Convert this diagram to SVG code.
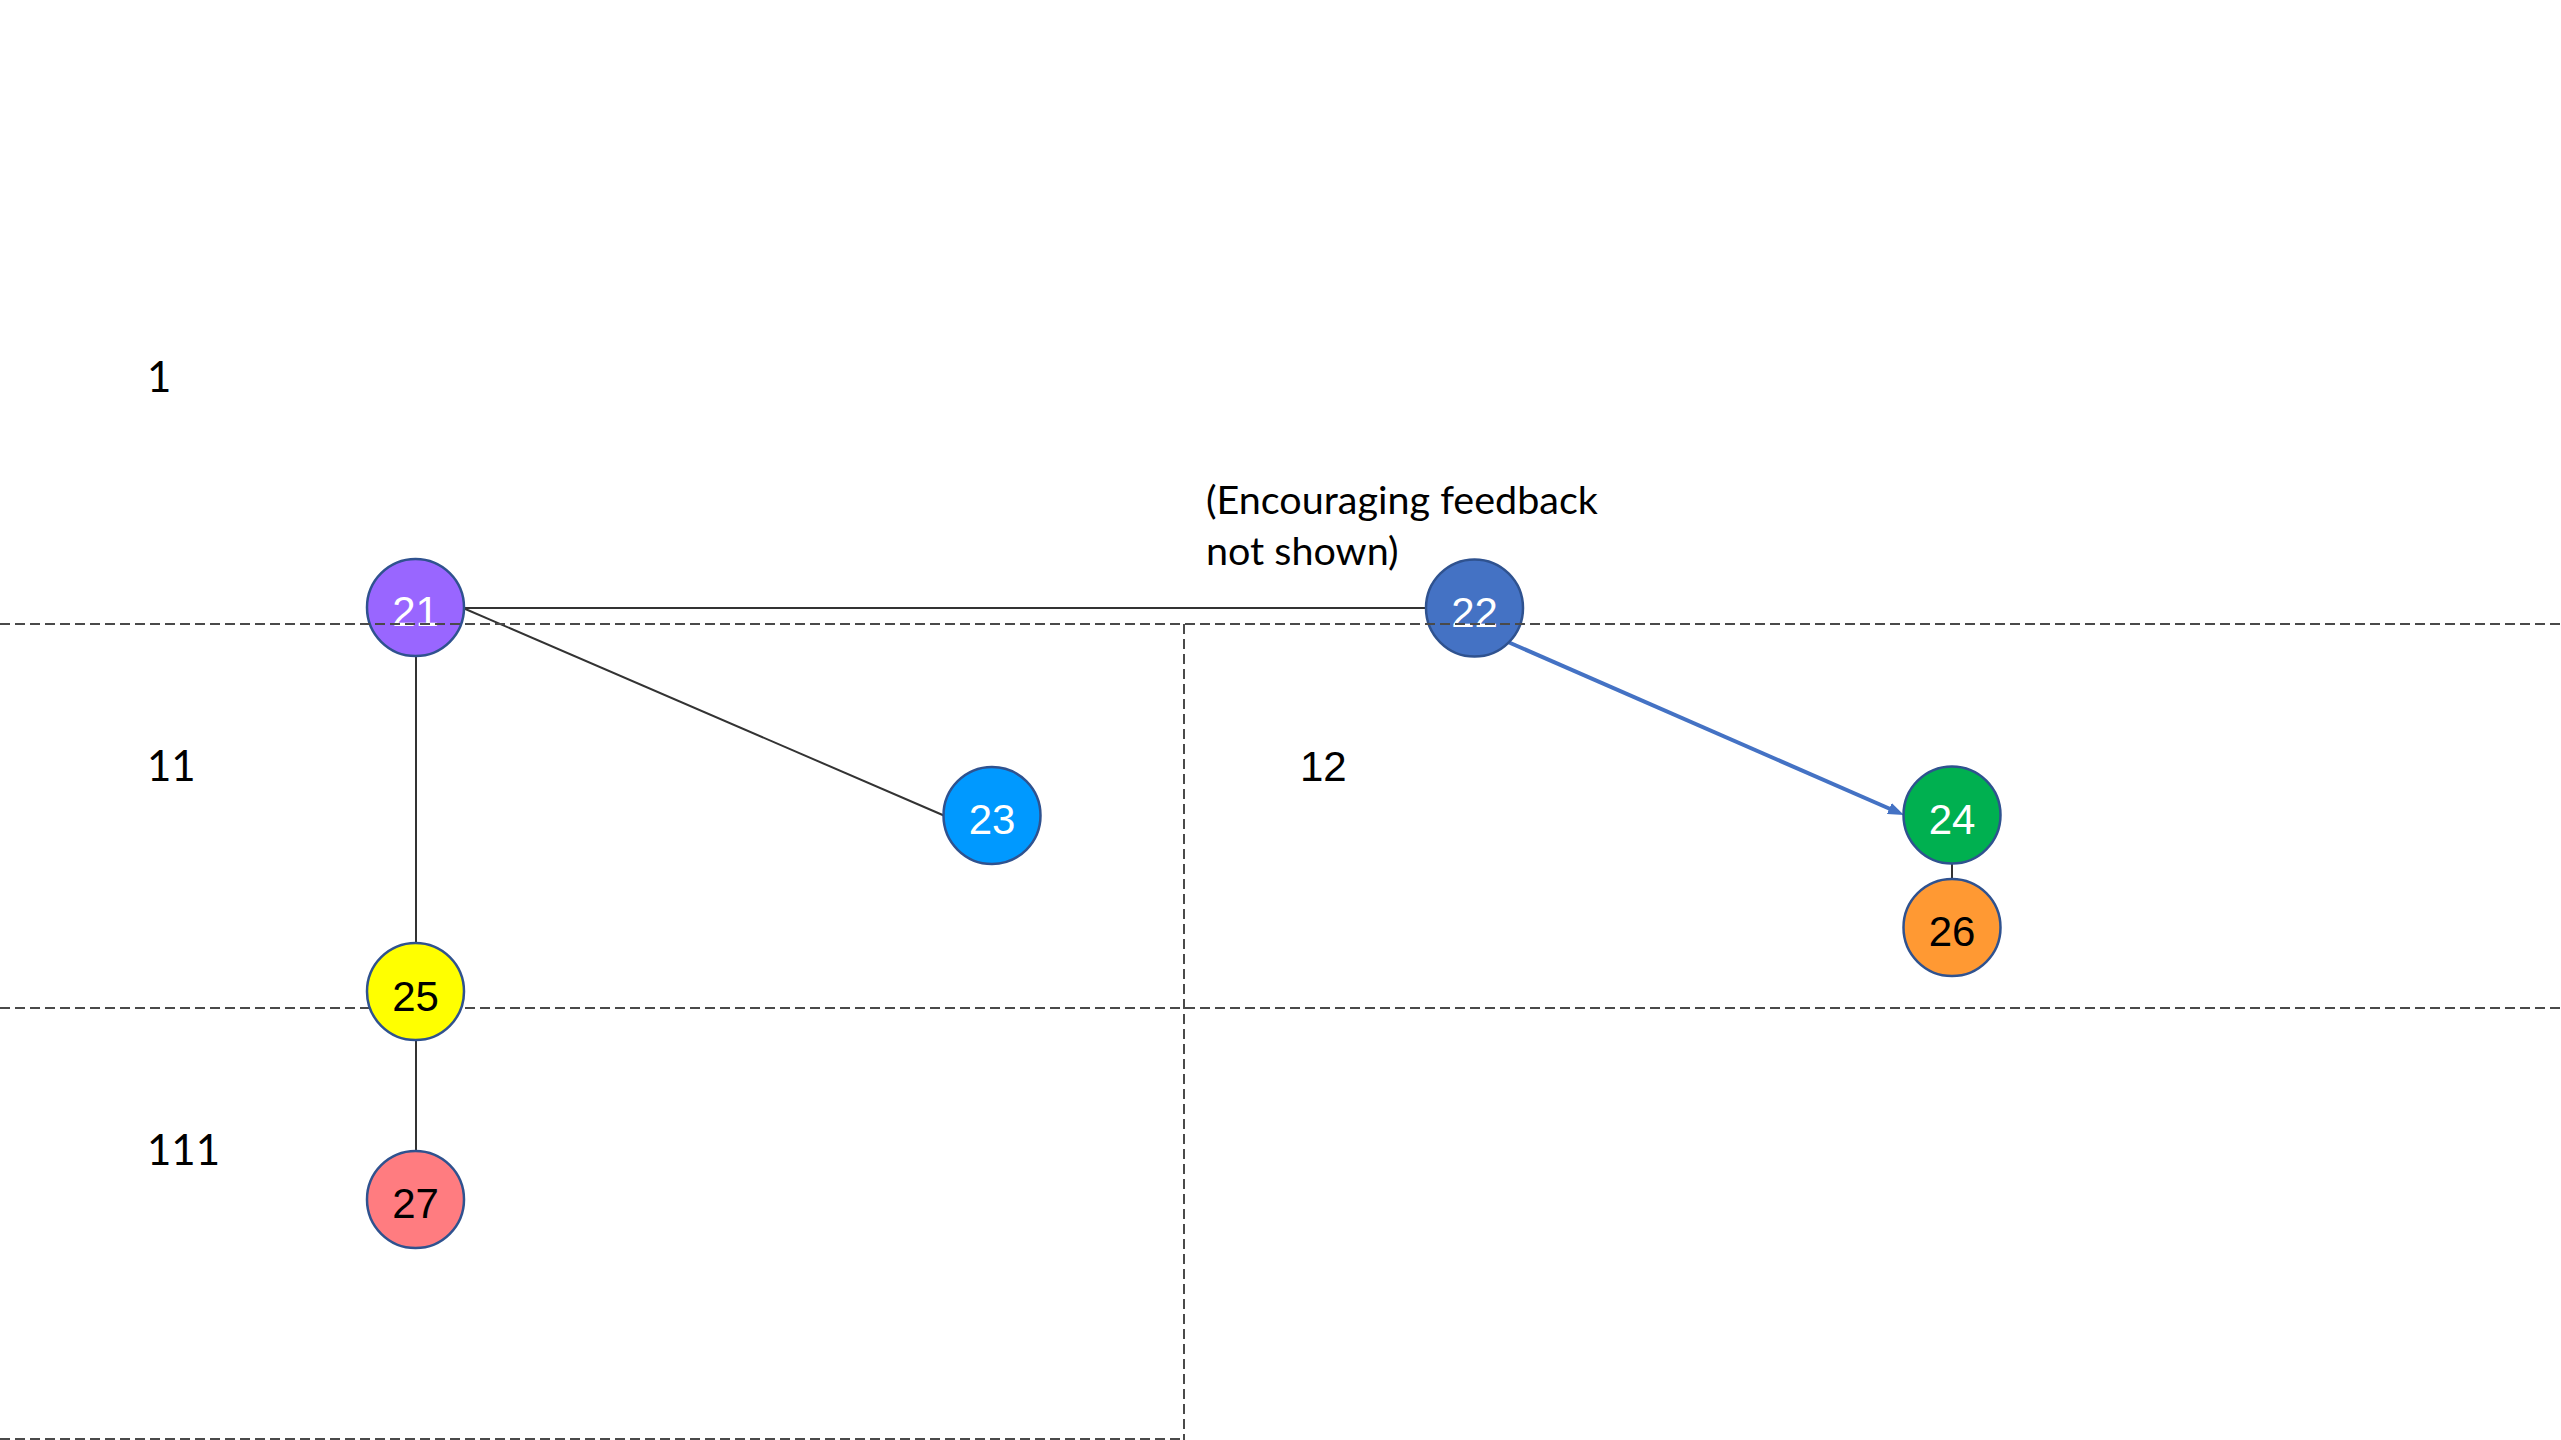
<svg xmlns="http://www.w3.org/2000/svg" width="2561" height="1440" viewBox="0 0 2561 1440">
<style>
  .node circle { stroke: #2F528F; stroke-width: 2.5; }
  .num { font-family: "Liberation Sans", Arial, sans-serif; font-size: 42px; text-anchor: middle; }
  .w { fill: #FFFFFF; }
  .b { fill: #000000; }
  .lbl { font-family: Lato, "Liberation Sans", sans-serif; font-size: 42px; fill: #000; }
  .guide { stroke: #4A4A4A; stroke-width: 2; stroke-dasharray: 10 5; fill: none; }
  .edge { stroke: #333333; stroke-width: 2; fill: none; }
</style>
<defs>
  <marker id="arrow" markerUnits="userSpaceOnUse" viewBox="0 0 16 12" refX="6" refY="6" markerWidth="16" markerHeight="12" orient="auto">
    <path d="M0,0 L16,6 L0,12 z" fill="#4472C4"/>
  </marker>
</defs>
<rect width="2561" height="1440" fill="#FFFFFF"/>

<g id="guides-lower">
  <line class="guide" x1="0" y1="1008" x2="2561" y2="1008"/>
  <line class="guide" x1="1184" y1="624" x2="1184" y2="1440"/>
  <line class="guide" x1="0" y1="1439" x2="1184" y2="1439"/>
</g>

<g id="labels">
  <text class="lbl" x="147" y="392">1</text>
  <text class="lbl" x="147" y="781">11</text>
  <text class="lbl" x="147" y="1165">111</text>
  <text x="1300" y="781" font-family="Liberation Sans, Arial, sans-serif" font-size="42" fill="#000">12</text>
  <text font-family="Lato, 'Liberation Sans', sans-serif" font-size="39.5" fill="#000">
    <tspan x="1206" y="514">(Encouraging feedback</tspan>
    <tspan x="1206" y="565">not shown)</tspan>
  </text>
</g>

<g id="connectors">
  <line class="edge" x1="464" y1="608" x2="1427" y2="608"/>
  <line class="edge" x1="463" y1="608" x2="945" y2="816"/>
  <line class="edge" x1="416" y1="655" x2="416" y2="944"/>
  <line class="edge" x1="416" y1="1039" x2="416" y2="1152"/>
  <line class="edge" x1="1952" y1="862" x2="1952" y2="880" stroke-width="1.5"/>
  <line x1="1508" y1="642" x2="1894.8" y2="811" stroke="#4472C4" stroke-width="4" marker-end="url(#arrow)"/>
</g>

<g id="node-21" class="node">
  <circle cx="415.5" cy="607.5" r="48.5" fill="#9966FF"/>
  <text class="num w" x="415.5" y="626">21</text>
</g>
<g id="node-22" class="node">
  <circle cx="1474.5" cy="608" r="48.5" fill="#4472C4"/>
  <text class="num w" x="1474.5" y="627">22</text>
</g>
<g id="node-23" class="node">
  <circle cx="992" cy="815.5" r="48.5" fill="#0099FF"/>
  <text class="num w" x="992" y="834">23</text>
</g>
<g id="node-24" class="node">
  <circle cx="1952" cy="815" r="48.5" fill="#00B050"/>
  <text class="num w" x="1952" y="834">24</text>
</g>
<g id="node-25" class="node">
  <circle cx="415.5" cy="991.5" r="48.5" fill="#FFFF00"/>
  <text class="num b" x="415.5" y="1011">25</text>
</g>
<g id="node-26" class="node">
  <circle cx="1952" cy="927.5" r="48.5" fill="#FF9933"/>
  <text class="num b" x="1952" y="946">26</text>
</g>
<g id="node-27" class="node">
  <circle cx="415.5" cy="1199.5" r="48.5" fill="#FF7C80"/>
  <text class="num b" x="415.5" y="1218">27</text>
</g>

<g id="guides-upper">
  <line class="guide" x1="0" y1="624" x2="2561" y2="624"/>
</g>
</svg>
